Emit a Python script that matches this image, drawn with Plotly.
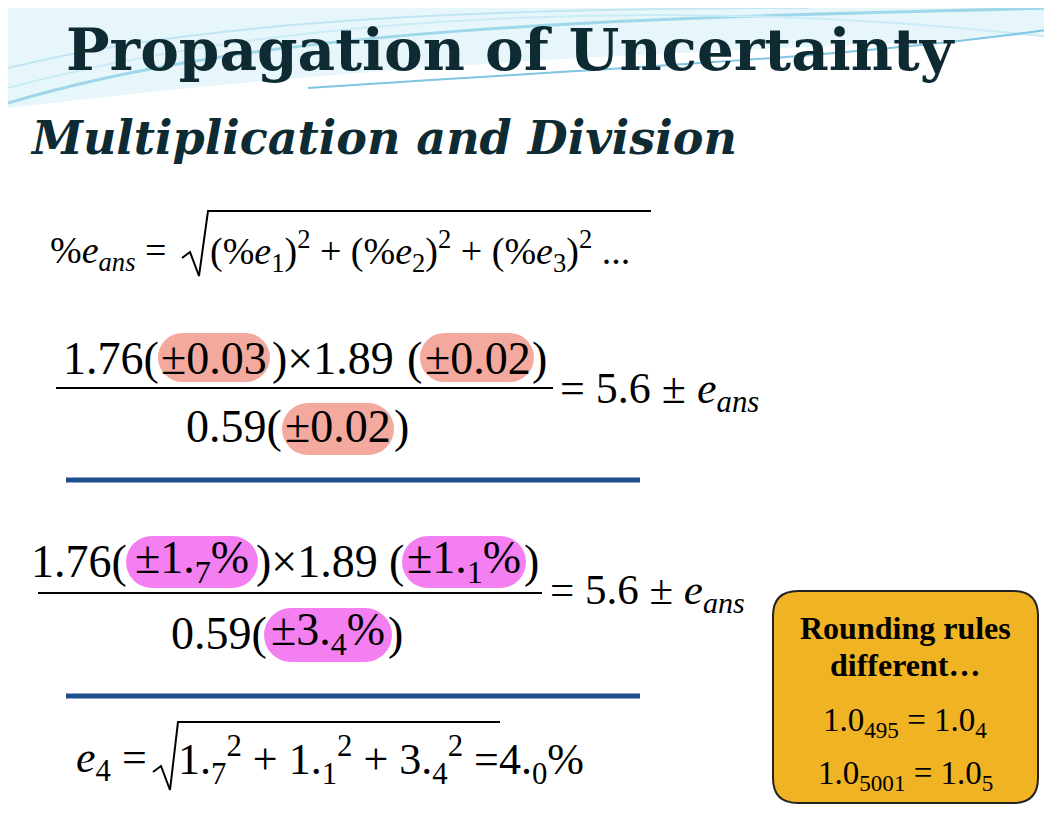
import plotly.graph_objects as go

# ---- data ----
values = ["1.76", "1.89", "0.59"]
abs_err = ["0.03", "0.02", "0.02"]
pct_err = [("1", "7"), ("1", "1"), ("3", "4")]
result = "5.6"
e4 = ("4", "0")
round_ex = [("1.0", "495", "1.0", "4"), ("1.0", "5001", "1.0", "5")]

W, H = 1052, 813
SERIF = "Liberation Serif"
TITLE_FONT = "DejaVu Serif"
DARK = "#0e2b33"

fig = go.Figure()
shapes, ann = [], []

def text(x, y, s, size, anchor="left", font=SERIF, color="black"):
    ann.append(dict(x=x, y=y, text=s, showarrow=False, xanchor=anchor, yanchor="middle",
                    font=dict(family=font, size=size, color=color)))

def blob(x0, y0, x1, y1, color):
    r = (y1 - y0) / 2
    shapes.append(dict(type="rect", x0=x0 + r, y0=y0, x1=x1 - r, y1=y1, fillcolor=color,
                       line=dict(width=0), layer="below"))
    for cx in (x0 + r, x1 - r):
        shapes.append(dict(type="circle", x0=cx - r, x1=cx + r, y0=y0, y1=y1,
                           fillcolor=color, line=dict(width=0), layer="below"))

def radical(x0, xtop, xend, ytop, ybot, w=2):
    path = f"M {x0-8},{ybot-18} L {x0},{ybot-24} L {x0+9},{ybot} L {xtop},{ytop} L {xend},{ytop}"
    shapes.append(dict(type="path", path=path, line=dict(color="black", width=w)))

# background swooshes
shapes.append(dict(type="path", path="M 0,0 L 1052,0 L 1052,25 C 800,45 500,40 0,100 Z",
                   fillcolor="#e6f6fb", line=dict(width=0), layer="below"))
for p, c, w in [("M 0,95 C 250,20 600,10 1052,0", "#9fd7ea", 3),
                ("M 0,80 C 300,0 700,-10 1052,30", "#c9ecf5", 2),
                ("M 300,80 C 600,60 850,50 1052,20", "#7fc6e0", 2),
                ("M 0,60 C 200,10 500,0 800,0", "#bfe6f2", 2)]:
    shapes.append(dict(type="path", path=p, line=dict(color=c, width=w), layer="below"))

# titles
text(503, 42, "<b>Propagation of Uncertainty</b>", 58, "center", TITLE_FONT, DARK)
text(20, 130, "<b><i>Multiplication and Division</i></b>", 46, "left", TITLE_FONT, DARK)

# formula 1
text(40, 245, "%<i>e</i><sub><i>ans</i></sub> =", 38)
radical(182, 200, 643, 203, 268)
text(200, 243, "(%<i>e</i><sub>1</sub>)<sup>2</sup> + (%<i>e</i><sub>2</sub>)<sup>2</sup> + (%<i>e</i><sub>3</sub>)<sup>2</sup> ...", 38)

FS = 46
# block 2 (absolute)
PINK = "#f4a99f"
blob(150, 325, 262, 374, PINK)
blob(412, 325, 526, 374, PINK)
blob(274, 395, 386, 447, PINK)
text(153, 350, f"{values[0]}(", FS, "right")
text(206, 350, f"±{abs_err[0]}", FS, "center")
text(262, 350, f")×{values[1]}", FS, "left")
text(416, 350, "(", FS, "right")
text(470, 350, f"±{abs_err[1]}", FS, "center")
text(522, 350, ")", FS, "left")
shapes.append(dict(type="line", x0=48, x1=545, y0=380, y1=380, line=dict(color="black", width=2)))
text(276, 418, f"{values[2]}(", FS, "right")
text(330, 418, f"±{abs_err[2]}", FS, "center")
text(384, 418, ")", FS, "left")
text(550, 383, f"= {result} ± <i>e</i><sub><i>ans</i></sub>", 44)

shapes.append(dict(type="line", x0=58, x1=632, y0=472, y1=472, line=dict(color="#1d4f8f", width=5)))

# block 3 (percent)
MAG = "#f47ff0"
blob(118, 528, 250, 580, MAG)
blob(394, 528, 518, 580, MAG)
blob(256, 600, 384, 654, MAG)
def pc(i):
    a, b = pct_err[i]
    return f"±{a}.<sub>{b}</sub>%"
text(121, 553, f"{values[0]}(", FS, "right")
text(184, 553, pc(0), FS, "center")
text(246, 553, f")×{values[1]}", FS, "left")
text(398, 553, "(", FS, "right")
text(456, 553, pc(1), FS, "center")
text(514, 553, ")", FS, "left")
shapes.append(dict(type="line", x0=30, x1=534, y0=585, y1=585, line=dict(color="black", width=2)))
text(261, 625, f"{values[2]}(", FS, "right")
text(320, 625, pc(2), FS, "center")
text(378, 625, ")", FS, "left")
text(540, 585, f"= {result} ± <i>e</i><sub><i>ans</i></sub>", 43)

shapes.append(dict(type="line", x0=58, x1=632, y0=688, y1=688, line=dict(color="#1d4f8f", width=5)))

# block 4
text(66, 752, "<i>e</i><sub>4</sub> =", 44)
radical(153, 170, 492, 714, 782)
terms = " + ".join(f"{a}.<sub>{b}</sub><sup>2</sup>" for a, b in pct_err)
text(168, 752, f"{terms} ={e4[0]}.<sub>{e4[1]}</sub>%", 44)

# rounding box
shapes.append(dict(type="path",
                   path="M 790,583 L 1005,583 Q 1030,583 1030,608 L 1030,770 Q 1030,795 1005,795 "
                        "L 790,795 Q 765,795 765,770 L 765,608 Q 765,583 790,583 Z",
                   fillcolor="#f0b324", line=dict(color="#222", width=2)))
text(897, 620, "<b>Rounding rules</b>", 32, "center")
text(897, 657, "<b>different…</b>", 32, "center")
for k, (a, b, c, d) in enumerate(round_ex):
    text(897, 714 + 53 * k, f"{a}<sub>{b}</sub> = {c}<sub>{d}</sub>", 33, "center")

fig.update_layout(width=W, height=H, margin=dict(l=0, r=0, t=0, b=0),
                  plot_bgcolor="white", paper_bgcolor="white",
                  xaxis=dict(range=[0, W], visible=False, fixedrange=True),
                  yaxis=dict(range=[H, 0], visible=False, fixedrange=True),
                  shapes=shapes, annotations=ann, showlegend=False)
fig.write_html("out.html")
